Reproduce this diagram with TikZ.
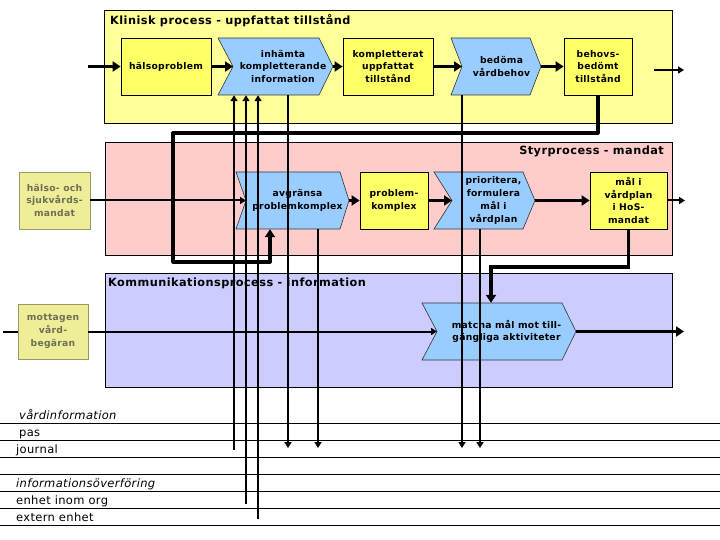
\documentclass[tikz,border=0pt]{standalone}
\usepackage{fontspec}
\setmainfont{DejaVu Sans}
\usetikzlibrary{arrows.meta}
\definecolor{panelY}{HTML}{FFFF99}
\definecolor{nodeY}{HTML}{FFFF66}
\definecolor{panelP}{HTML}{FFCCCC}
\definecolor{panelB}{HTML}{CCCCFF}
\definecolor{chevB}{HTML}{99CCFF}
\definecolor{khaki}{HTML}{EEEE99}
\definecolor{khakiline}{HTML}{999966}
\definecolor{khakitext}{HTML}{6E6E55}
\newcommand{\mychev}[8]{%
  \draw[chevstyle] (#2,#6) -- (#4,#6) -- ({#4+#5},{(#6+#7)/2}) -- (#4,#7) -- (#2,#7) -- ({#2+#3},{(#6+#7)/2}) -- cycle;
  \coordinate (#1-in) at ({#2+#3},{(#6+#7)/2});
  \coordinate (#1-out) at ({#4+#5},{(#6+#7)/2});
  \node[chevtext, minimum width={(#4-#2)*1pt}, minimum height={(#7-#6)*1pt}] (#1) at ({(#2+#3+#4+#5)/2},{(#6+#7)/2}) {#8};
}
\begin{document}
\begin{tikzpicture}[x=1pt,y=-1pt,
  panel/.style={draw=black,line width=0.8pt},
  ptitle/.style={font=\bfseries\fontsize{11.3}{13}\selectfont\addfontfeature{LetterSpace=4}, inner sep=0pt},
  nodefont/.style={font=\bfseries\fontsize{9.2}{12.8}\selectfont\addfontfeature{LetterSpace=3}, align=center},
  ybox/.style={nodefont, draw=black, line width=0.8pt, fill=nodeY, inner sep=1pt},
  kbox/.style={nodefont, draw=khakiline, line width=0.8pt, fill=khaki, text=khakitext, inner sep=1pt},
  chevstyle/.style={draw=black!80, line width=0.6pt, fill=chevB},
  chevtext/.style={nodefont, inner sep=0pt},
  thickarr/.style={line width=3.2pt, -{Triangle[length=8pt,width=10pt]}},
  thickline/.style={line width=3.2pt},
  thinarr/.style={line width=2pt, -{Triangle[length=6pt,width=7pt]}},
  thinline/.style={line width=2pt},
  hline/.style={line width=1pt},
  labfont/.style={font=\fontsize{11.5}{13}\selectfont\addfontfeature{LetterSpace=3}},
  labitfont/.style={font=\itshape\fontsize{11.5}{13}\selectfont\addfontfeature{LetterSpace=3}},
  lab/.style={anchor=base west, inner sep=0pt}
]
\useasboundingbox (0,0) rectangle (720,540);
\fill[white] (0,0) rectangle (720,540);

% panels
\draw[panel, fill=panelY] (104,10) rectangle (672,123);
\node[ptitle, anchor=base west] (t1) at (110,25) {Klinisk process - uppfattat tillstånd};
\draw[panel, fill=panelP] (105,142) rectangle (672,255);
\node[ptitle, anchor=base east] (t2) at (664,155) {Styrprocess - mandat};
\draw[panel, fill=panelB] (105,273) rectangle (672,387);
\node[ptitle, anchor=base west] (t3) at (108,286) {Kommunikationsprocess - information};

% top row
\node[ybox, minimum width=90pt, minimum height=57pt] (hp) at (166,66.5) {hälsoproblem};
\mychev{inh}{218}{15}{319}{14}{38}{95}{inhämta\\kompletterande\\information}
\node[ybox, minimum width=90pt, minimum height=57pt] (kut) at (388,66.5) {kompletterat\\uppfattat\\tillstånd};
\mychev{bed}{451}{11}{530}{11}{38}{95}{bedöma\\vårdbehov}
\node[ybox, minimum width=68pt, minimum height=57pt] (bbt) at (598,66.5) {behovs-\\bedömt\\tillstånd};

% middle row
\node[kbox, minimum width=71pt, minimum height=57pt] (hsm) at (54.5,200.5) {hälso- och\\sjukvårds-\\mandat};
\mychev{avg}{236}{10}{340}{9}{172}{229}{avgränsa\\problemkomplex}
\node[ybox, minimum width=68pt, minimum height=57pt] (pk) at (394,200.5) {problem-\\komplex};
\mychev{pri}{434}{18}{523}{12}{172}{229}{prioritera,\\formulera\\mål i\\vårdplan}
\node[ybox, minimum width=77pt, minimum height=57pt] (mal) at (628.5,200.5) {mål i\\vårdplan\\i HoS-\\mandat};

% lower row
\node[kbox, minimum width=70pt, minimum height=55pt] (mvb) at (53,331.5) {mottagen\\vård-\\begäran};
\mychev{mat}{422}{15}{562}{14}{303}{360}{matcha mål mot till-\\gängliga aktiviteter}

% bottom lines and labels
\foreach \yy/\nm in {423/l1,440/l2,457/l3,474/l4,491/l5,508/l6,525/l7}{
  \coordinate (\nm a) at (0,\yy); \coordinate (\nm b) at (720,\yy);
  \draw[hline] (\nm a) -- (\nm b);
}
\node[lab, labitfont] (lv) at (19,419) {vårdinformation};
\node[lab, labfont] (lp) at (19,436) {pas};
\node[lab, labfont] (lj) at (16,453) {journal};
\node[lab, labitfont] (li) at (16,487) {informationsöverföring};
\node[lab, labfont] (le) at (16,504) {enhet inom org};
\node[lab, labfont] (lx) at (16,521) {extern enhet};

% connectors top
\coordinate (in0) at (88,66.5);
\draw[thickarr] (in0) -- (hp.west);
\draw[thickarr] (hp.east) -- (inh-in);
\draw[thickarr] (inh-out) -- (kut.west);
\draw[thickarr] (kut.east) -- (bed-in);
\draw[thickarr] (bed-out) -- (bbt.west);
\coordinate (o1a) at (654,70); \coordinate (o1b) at (684,70);
\draw[thinarr] (o1a) -- (o1b);

% connectors middle
\draw[thinarr] (hsm.east) -- (avg-in);
\draw[thickarr] (avg-out) -- (pk.west);
\draw[thickarr] (pk.east) -- (pri-in);
\draw[thickarr] (pri-out) -- (mal.west);
\coordinate (o2) at (685,200.5);
\draw[thinarr] (mal.east) -- (o2);

% lower connectors
\coordinate (m0) at (3,331.5);
\draw[thinline] (m0) -- (mvb.west);
\draw[thinarr] (mvb.east) -- (mat-in);
\coordinate (o3) at (684,331.5);
\draw[thickarr] (mat-out) -- (o3);

% thick loop paths
\coordinate (k1) at (173,133);
\coordinate (k2) at (173,262);
\coordinate (k3) at (270,262);
\draw[thickarr, line join=round] (bbt.south) |- (k1) -- (k2) -- (k3) -- (k3 |- avg.south);
\coordinate (u1) at (491,267);
\draw[thickarr] (mal.south) |- (u1) -- (u1 |- mat.north);

% vertical info lines
\coordinate (v1) at (234,450);
\coordinate (v2) at (246,504);
\coordinate (v3) at (258,519);
\draw[thinarr] (v1) -- (v1 |- inh.south);
\draw[thinarr] (v2) -- (v2 |- inh.south);
\draw[thinarr] (v3) -- (v3 |- inh.south);
\coordinate (d1) at (288,448);
\coordinate (d2) at (318,448);
\coordinate (d3) at (462,448);
\coordinate (d4) at (480,448);
\draw[thinarr] (d1 |- inh.south) -- (d1);
\draw[thinarr] (d2 |- avg.south) -- (d2);
\draw[thinarr] (d3 |- bed.south) -- (d3);
\draw[thinarr] (d4 |- pri.south) -- (d4);
\end{tikzpicture}
\end{document}
